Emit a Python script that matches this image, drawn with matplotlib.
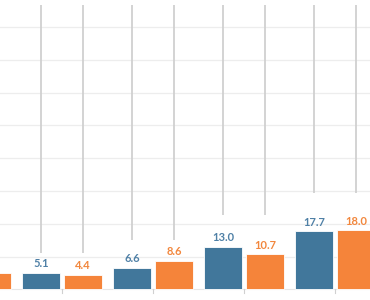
import numpy as np
import matplotlib
matplotlib.use("Agg")
import matplotlib.pyplot as plt

groups = [0, 1, 2, 3, 4]
blue_vals = [np.nan, 5.1, 6.6, 13.0, 17.7]
orange_vals = [4.9, 4.4, 8.6, 10.7, 18.0]
line_bottoms = [np.nan, 11.1, 15.0, 22.6, 29.4]
line_top = 86.7
grid_vals = [10, 20, 30, 40, 50, 60, 70, 80]

blue = "#41779b"
orange = "#f5843a"
blue_txt = "#4f80a6"
orange_txt = "#f2873d"

fig = plt.figure(figsize=(3.7, 3.0), dpi=100)
ax = fig.add_axes([0, 0, 1, 1])
xmin, xmax = 29 / 91, 399 / 91
ax.set_xlim(xmin, xmax)
ax.set_ylim(-10.7 / 3.28, 289.3 / 3.28)
ax.axis("off")

for g in grid_vals:
    ax.axhline(g, color="#ededed", lw=0.9, zorder=0)

x = np.array(groups, dtype=float)
off = 0.231
w = 0.423
xb = x - off
xo = x + off
ax.bar(xb, blue_vals, width=w, color=blue, edgecolor="white", lw=0.6, zorder=2)
ax.bar(xo, orange_vals, width=w, color=orange, edgecolor="white", lw=0.6, zorder=2)

for xi, b in zip(np.concatenate([xb, xo]), line_bottoms * 2):
    if not np.isnan(b):
        ax.plot([xi + 0.005, xi + 0.005], [b, line_top], color="#d0d0d0", lw=1.3, zorder=1,
                solid_capstyle="butt")

ax.axhline(0, color="#e6e6e6", lw=0.8, zorder=1)
for g in groups[1:]:
    ax.plot([g, g], [0, -1.2], color="#d0d0d0", lw=0.8, zorder=1)

for xs, vals, col in ((xb, blue_vals, blue_txt), (xo, orange_vals, orange_txt)):
    for xi, v in zip(xs, vals):
        if np.isnan(v) or xi < xmin + 0.1:
            continue
        ax.text(xi, v + 1.1, f"{v:.1f}", ha="center", va="bottom", color=col,
                fontsize=8, fontweight="bold", family="Lato")

fig.savefig("out.png", dpi=100)
